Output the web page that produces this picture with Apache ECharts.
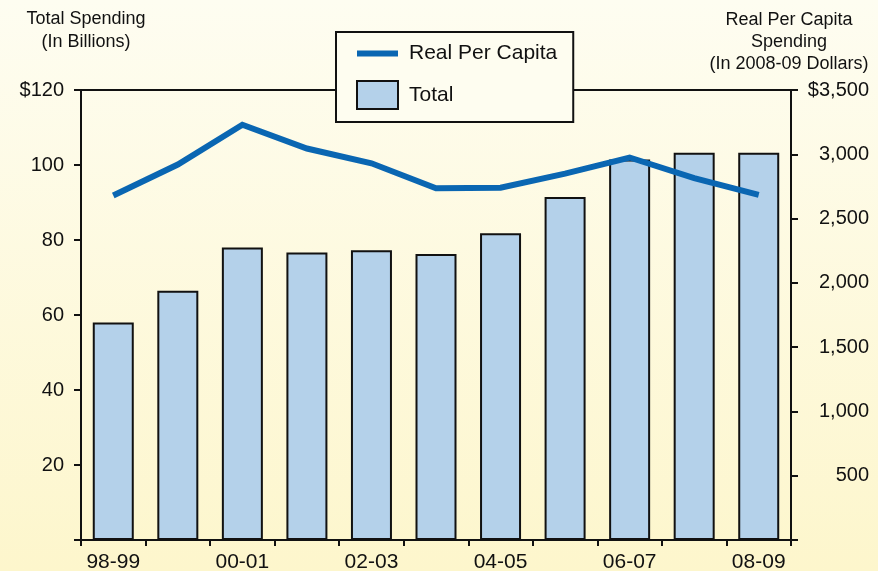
<!DOCTYPE html>
<html>
<head>
<meta charset="utf-8">
<script src="https://cdn.jsdelivr.net/npm/echarts@6/dist/echarts.min.js"></script>
<style>
    html, body { margin: 0; padding: 0; }
    #main { width: 878px; height: 571px; }
</style>
</head>
<body>
<div id="main"></div>
<script>
var years = ["98-99", "99-00", "00-01", "01-02", "02-03", "03-04", "04-05", "05-06", "06-07", "07-08", "08-09"];
var totalSpending = [58, 66.5, 78, 76.7, 77.3, 76.3, 81.8, 91.5, 101.5, 103.3, 103.3];   // billions
var realPerCapita = [2680, 2920, 3230, 3045, 2930, 2735, 2740, 2850, 2975, 2815, 2685];   // 2008-09 dollars
var leftTicks = [0, 120, 20];
var rightTicks = [0, 3500, 500];

var fontName = "Liberation Sans";
var lineColor = "#0a66b2";
var barColor = "#b4d1ea";

function fmtLeft(v) {
    if (v == 0) return "";
    if (v == 120) return "$120";
    return v;
}
function fmtRight(v) {
    if (v == 0) return "";
    var s = v >= 1000 ? Math.floor(v / 1000) + "," + ("00" + (v % 1000)).slice(-3) : "" + v;
    return v == 3500 ? "$" + s : s;
}

var myChart = echarts.init(document.getElementById("main"));
var option = {
    animation: false,
    backgroundColor: {
        type: "linear", x: 0, y: 0, x2: 0, y2: 1,
        colorStops: [{ offset: 0, color: "#fefdf1" }, { offset: 1, color: "#fdf6cc" }]
    },
    textStyle: { fontFamily: fontName },
    graphic: [
        {
            type: "text", x: 86, y: 8,
            style: { text: "Total Spending\n(In Billions)", align: "center", font: "18px " + fontName, fill: "#111", lineHeight: 23 }
        },
        {
            type: "text", x: 789, y: 9,
            style: { text: "Real Per Capita\nSpending\n(In 2008-09 Dollars)", align: "center", font: "18px " + fontName, fill: "#111", lineHeight: 22 }
        }
    ],
    grid: {
        left: 81, right: 87, top: 90, bottom: 31,
        outerBoundsMode: "none",
        show: true, borderColor: "#111", borderWidth: 2, backgroundColor: "transparent"
    },
    legend: {
        left: 336, top: 32,
        orient: "vertical",
        backgroundColor: "#fefdf0",
        borderColor: "#111", borderWidth: 2, borderRadius: 0,
        padding: [11, 16, 12, 20],
        itemWidth: 41, itemHeight: 28, itemGap: 16,
        textStyle: { fontSize: 21, color: "#111", padding: [0, 0, 0, 6] },
        data: [
            { name: "Real Per Capita", icon: "path://M0,0H40V6H0Z", itemStyle: { color: lineColor, borderWidth: 0 } },
            { name: "Total", icon: "rect", itemStyle: { color: barColor, borderColor: "#111", borderWidth: 2 } }
        ],
        z: 10
    },
    xAxis: {
        type: "category",
        data: years,
        axisLine: { lineStyle: { color: "#111", width: 2 } },
        axisTick: { show: true, interval: 0, length: 6, lineStyle: { color: "#111", width: 2 } },
        axisLabel: { interval: 1, fontSize: 21, color: "#111", margin: 12 }
    },
    yAxis: [
        {
            type: "value", min: leftTicks[0], max: leftTicks[1], interval: leftTicks[2],
            axisLine: { show: true, lineStyle: { color: "#111", width: 2 } },
            axisTick: { show: true, length: 7, lineStyle: { color: "#111", width: 2 } },
            axisLabel: { fontSize: 20, color: "#111", margin: 17, formatter: fmtLeft },
            splitLine: { show: false }
        },
        {
            type: "value", min: rightTicks[0], max: rightTicks[1], interval: rightTicks[2],
            position: "right",
            axisLine: { show: true, lineStyle: { color: "#111", width: 2 } },
            axisTick: { show: true, length: 7, lineStyle: { color: "#111", width: 2 } },
            axisLabel: { fontSize: 20, color: "#111", margin: 78, align: "right", formatter: fmtRight },
            splitLine: { show: false }
        }
    ],
    series: [
        {
            name: "Total", type: "bar", yAxisIndex: 0,
            data: totalSpending,
            barWidth: 41,
            itemStyle: { color: barColor, borderColor: "#111", borderWidth: 2 }
        },
        {
            name: "Real Per Capita", type: "line", yAxisIndex: 1,
            data: realPerCapita,
            symbol: "none",
            lineStyle: { color: lineColor, width: 6, join: "miter" },
            itemStyle: { color: lineColor },
            z: 5
        }
    ]
};
myChart.setOption(option);
</script>
</body>
</html>
